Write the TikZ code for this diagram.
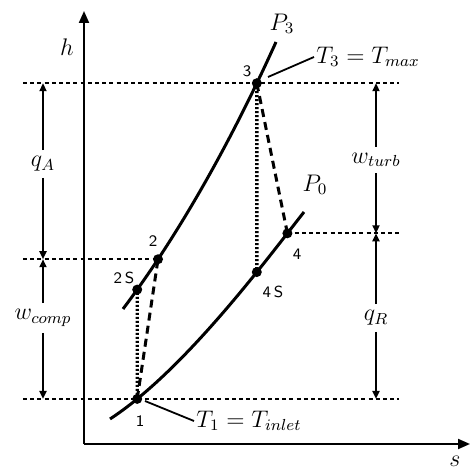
\documentclass[tikz,border=0pt]{standalone}
\usepackage{amsmath,amssymb}
\usepackage{tikz}
\usetikzlibrary{calc,positioning,arrows.meta,intersections}

\begin{document}
\begin{tikzpicture}[x=0.5pt, y=-0.5pt,
		axis/.style={line width=1pt, -{Triangle[length=6pt, width=5pt]}},
		isobar/.style={line width=1.5pt},
		level/.style={line width=0.9pt, dash pattern=on 2pt off 1.6pt},
		ideal/.style={line width=1.7pt, dash pattern=on 1pt off 1pt},
		real/.style={line width=1.5pt, dash pattern=on 4pt off 2.6pt},
		dim/.style={line width=1pt, -{Triangle[length=4pt, width=3.5pt]}},
		state/.style={circle, fill=black, inner sep=0pt, minimum size=5pt},
		num/.style={font=\sffamily\footnotesize, inner sep=1pt},
		lbl/.style={font=\large, inner sep=1pt}]
	\useasboundingbox (0,0) rectangle (470,469);
	
	%------------------------------------------------
	% Axes
	%------------------------------------------------
	\coordinate (O) at (84,444);
	\coordinate (htip) at (84,11);
	\coordinate (stip) at (470,444);
	\draw[axis] (O) -- (htip);
	\draw[axis] (O) -- (stip);
	\node[lbl] (hl) at (67,47) {$h$};
	\node[lbl] (sl) at (455,461) {$s$};
	
	%------------------------------------------------
	% Isobars and states
	%------------------------------------------------
	\draw[isobar, name path=p3] (123,309) .. controls (183,229) and (235,133) .. (276,42)
		coordinate[pos=0.2] (s2) coordinate[pos=0.85] (s3);
	\draw[isobar, name path=p0] (110,419) .. controls (185,370) and (267,259) .. (304,212)
		coordinate[pos=0.12] (s1) coordinate[pos=0.87] (s4);
	\node[lbl] (P3) at (282,24) {$P_3$};
	\node[lbl] (P0) at (315,185) {$P_0$};
	
	\path[name path=v1] (s1) -- ++(0,-160);
	\path[name path=v3] (s3) -- ++(0,260);
	\path[name intersections={of=v1 and p3, by=s2s}];
	\path[name intersections={of=v3 and p0, by=s4s}];
	
	%------------------------------------------------
	% Levels
	%------------------------------------------------
	\coordinate (xl) at (23,0);
	\coordinate (xr) at (399,0);
	\draw[level] (xl |- s3) -- (xr |- s3);
	\draw[level] (xl |- s2) -- (s2);
	\draw[level] (s4) -- (xr |- s4);
	\draw[level] (xl |- s1) -- (xr |- s1);
	
	%------------------------------------------------
	% Processes
	%------------------------------------------------
	\draw[ideal] (s1) -- (s2s);
	\draw[ideal] (s3) -- (s4s);
	\draw[real] (s1) -- (s2);
	\draw[real] (s3) -- (s4);
	
	\foreach \p in {s1,s2s,s2,s3,s4s,s4}
		\node[state] (d\p) at (\p) {};
	
	\node[num] (n1) at (140,421) {1};
	\node[num] (n2) at (153,241) {2};
	\node[num] (n2s) at (124,278) {2\,S};
	\node[num] (n3) at (247,71) {3};
	\node[num] (n4) at (297,254) {4};
	\node[num] (n4s) at (273,292) {4\,S};
	
	%------------------------------------------------
	% Temperatures
	%------------------------------------------------
	\node[lbl, anchor=west] (Tmax) at (314,57) {$T_3 = T_{max}$};
	\coordinate (t3a) at (268,77);
	\draw[line width=0.9pt] (t3a) -- (Tmax.west);
	\node[lbl, anchor=west] (Tin) at (194,421) {$T_1 = T_{inlet}$};
	\coordinate (t1a) at (145,401);
	\draw[line width=0.9pt] (t1a) -- (Tin.west);
	
	%------------------------------------------------
	% Heat and work
	%------------------------------------------------
	\coordinate (xq) at (43,0);
	\coordinate (xw) at (376,0);
	
	\node[lbl, inner sep=3pt] (qA) at (43,164) {$q_A$};
	\node[lbl, inner sep=3pt] (wc) at (43,318) {$w_{comp}$};
	\node[lbl, inner sep=3pt] (wt) at (376,160) {$w_{turb}$};
	\node[lbl, inner sep=3pt] (qR) at (376,318) {$q_R$};
	
	\draw[dim] (qA) -- (xq |- s3);
	\draw[dim] (qA) -- (xq |- s2);
	\draw[dim] (wc) -- (xq |- s2);
	\draw[dim] (wc) -- (xq |- s1);
	\draw[dim] (wt) -- (xw |- s3);
	\draw[dim] (wt) -- (xw |- s4);
	\draw[dim] (qR) -- (xw |- s4);
	\draw[dim] (qR) -- (xw |- s1);
\end{tikzpicture}
\end{document}
